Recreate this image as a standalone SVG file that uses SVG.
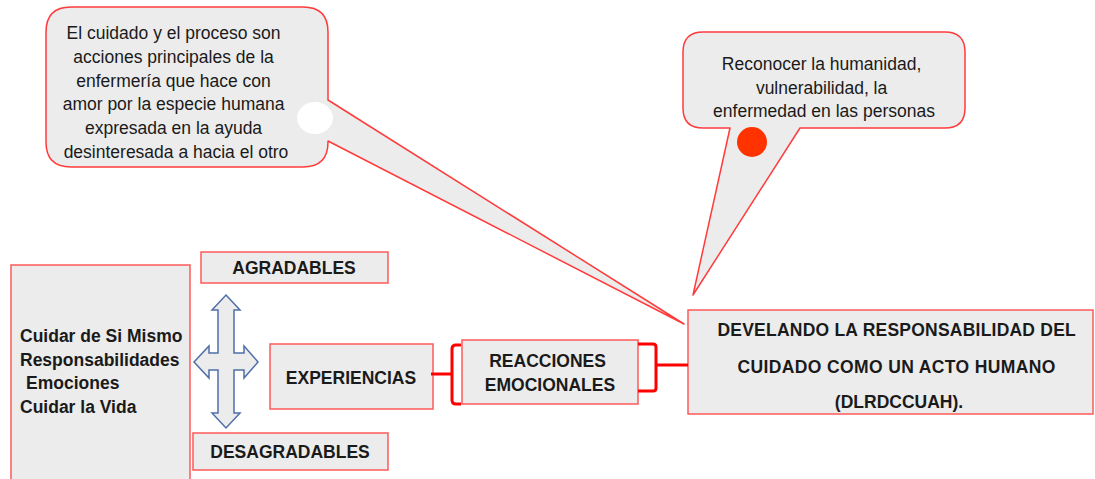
<svg xmlns="http://www.w3.org/2000/svg" width="1095" height="479" viewBox="0 0 1095 479">
<style>
.box{fill:#ececec;stroke:#ff5a5a;stroke-width:1.5}
.bub{fill:#ececec;stroke:#ff3b3b;stroke-width:1.5;stroke-linejoin:round}
.t{font-family:"Liberation Sans",Arial,sans-serif;font-size:17.5px;fill:#1a1a1a}
.b{font-weight:bold}
.br{fill:none;stroke:#ff0000;stroke-width:3;stroke-linejoin:round}
.arr{fill:#ececec;stroke:#4f6fa8;stroke-width:1.5;stroke-linejoin:miter}
</style>
<rect width="1095" height="479" fill="#ffffff"/>
<g id="callout-left">
<path class="bub" d="M71,7 H303 Q328,7 328,32 V100 L684,324 L328,141 V142 Q328,167 303,167 H71 Q46,167 46,142 V32 Q46,7 71,7 Z"/>
<ellipse cx="315" cy="118" rx="18" ry="16" fill="#ffffff"/>
<text class="t" text-anchor="middle">
<tspan x="176" y="39">El cuidado y el proceso son</tspan>
<tspan x="176" y="63">acciones principales de la</tspan>
<tspan x="176" y="87">enfermería que hace con</tspan>
<tspan x="176" y="110">amor por la especie humana</tspan>
<tspan x="176" y="134">expresada en la ayuda</tspan>
<tspan x="176" y="158">desinteresada a hacia el otro</tspan>
</text>
</g>
<g id="callout-right">
<path class="bub" d="M703,32 H945 Q965,32 965,52 V108 Q965,128 945,128 H800 L693,295 L730,128 H703 Q683,128 683,108 V52 Q683,32 703,32 Z"/>
<circle cx="752" cy="142" r="15" fill="#ff3300"/>
<text class="t" text-anchor="middle">
<tspan x="824" y="70">Reconocer la humanidad,</tspan>
<tspan x="824" y="94">vulnerabilidad, la</tspan>
<tspan x="824" y="117">enfermedad en las personas</tspan>
</text>
</g>
<g id="cuidar">
<rect class="box" x="11" y="265" width="179" height="225"/>
<text class="t b">
<tspan x="20" y="342">Cuidar de Si Mismo</tspan>
<tspan x="20" y="366">Responsabilidades</tspan>
<tspan x="26" y="389">Emociones</tspan>
<tspan x="20" y="413">Cuidar la Vida</tspan>
</text>
</g>
<g id="agradables">
<rect class="box" x="201" y="252" width="187" height="31"/>
<text class="t b" x="294" y="274" text-anchor="middle">AGRADABLES</text>
</g>
<g id="desagradables">
<rect class="box" x="193" y="433" width="195" height="37"/>
<text class="t b" x="290" y="458" text-anchor="middle">DESAGRADABLES</text>
</g>
<g id="cross-arrow">
<polygon class="arr" points="226,295 240,310 234,310 234,353 244,353 244,346 258,362 244,378 244,370 234,370 234,413 240,413 226,428 212,413 218,413 218,370 209,370 209,378 194,362 209,346 209,353 218,353 218,310 212,310"/>
</g>
<g id="experiencias">
<rect class="box" x="270" y="344" width="163" height="65"/>
<text class="t b" x="351" y="384" text-anchor="middle">EXPERIENCIAS</text>
</g>
<g id="reacciones">
<rect class="box" x="462" y="340" width="176" height="64"/>
<text class="t b" text-anchor="middle">
<tspan x="550" y="367">REACCIONES</tspan>
<tspan x="550" y="391">EMOCIONALES</tspan>
</text>
</g>
<g id="develando">
<rect class="box" x="688" y="310" width="405" height="104"/>
<text class="t b" text-anchor="middle" font-size="16.5">
<tspan x="899" y="336" textLength="358" lengthAdjust="spacing">DEVELANDO LA RESPONSABILIDAD DEL</tspan>
<tspan x="899" y="373" textLength="318" lengthAdjust="spacing">CUIDADO COMO UN ACTO HUMANO</tspan>
<tspan x="899" y="408">(DLRDCCUAH).</tspan>
</text>
</g>
<g id="connectors">
<line class="br" x1="431" y1="374" x2="452" y2="374"/>
<path class="br" d="M461,345 H456 Q452,345 452,349 V400 Q452,404 456,404 H461"/>
<path class="br" d="M638,344 H653 Q656,344 656,347 V388 Q656,391 653,391 H638"/>
<line class="br" x1="656" y1="365" x2="688" y2="365"/>
</g>
</svg>
